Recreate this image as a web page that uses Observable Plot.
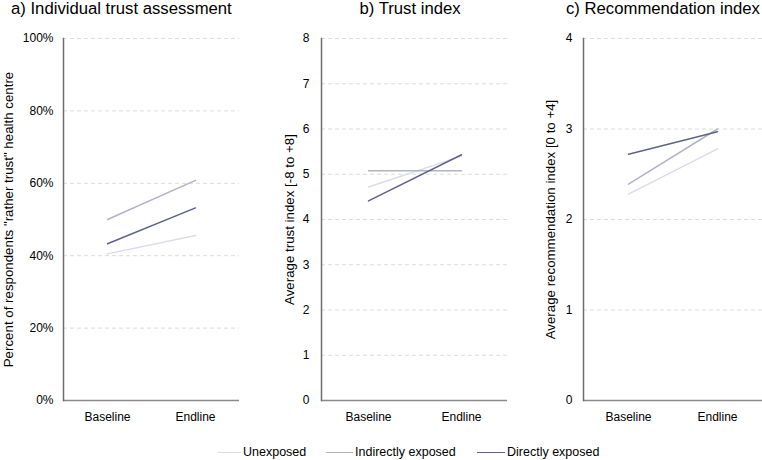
<!DOCTYPE html>
<html>
<head>
<meta charset="utf-8">
<script src="https://cdn.jsdelivr.net/npm/d3@7"></script>
<script src="https://cdn.jsdelivr.net/npm/@observablehq/plot@0.6"></script>
<style>
  html, body { margin: 0; padding: 0; background: #fff; }
  #root { position: relative; width: 762px; height: 460px; overflow: hidden; font-family: "Liberation Sans", Arial, sans-serif; color: #000; }
  .panel { position: absolute; top: 0; }
  .title { position: absolute; top: 1px; font-size: 16.7px; line-height: 16px; white-space: nowrap; }
  .legend { position: absolute; top: 445px; font-size: 12.5px; line-height: 14px; white-space: nowrap; }
  .sw { position: absolute; height: 0; border-top: 1.5px solid; top: 452px; }
</style>
</head>
<body>
<div id="root"></div>
<script>
const stages = ["Baseline", "Endline"];
const groups = ["Unexposed", "Indirectly exposed", "Directly exposed"];
const groupColors = ["#dcdce9", "#b3b3c7", "#5c6585"];

// values per group: [Baseline, Endline]
const individualTrust = [[0.405, 0.456], [0.500, 0.608], [0.433, 0.532]];
const trustIndex = [[4.72, 5.40], [5.08, 5.08], [4.41, 5.43]];
const recommendationIndex = [[2.28, 2.78], [2.39, 3.00], [2.72, 2.97]];

const ticksA = [0, 0.2, 0.4, 0.6, 0.8, 1.0];
const ticksB = [0, 1, 2, 3, 4, 5, 6, 7, 8];
const ticksC = [0, 1, 2, 3, 4];

const titles = ["a) Individual trust assessment", "b) Trust index", "c) Recommendation index"];
const yLabels = ["Percent of respondents \"rather trust\" health centre", "Average trust index [-8 to +8]", "Average recommendation index [0 to +4]"];

const root = document.getElementById("root");

function panel({data, ticks, fmt, label, labelDx, tickPad, left, width, ml, mr}) {
  const rows = [];
  groups.forEach((g, i) => stages.forEach((s, j) => rows.push({group: g, stage: s, value: data[i][j]})));
  const y0 = ticks[0], y1 = ticks[ticks.length - 1];
  const svg = Plot.plot({
    width, height: 460, marginLeft: ml, marginRight: mr, marginTop: 38, marginBottom: 60,
    style: {fontFamily: "'Liberation Sans', Arial, sans-serif", fontSize: "12px", color: "#000", background: "transparent"},
    x: {type: "point", domain: stages, padding: 0.5},
    y: {domain: [y0, y1]},
    color: {domain: groups, range: groupColors},
    marks: [
      Plot.ruleY(ticks.filter(t => t > y0), {stroke: "#dcdcdc", strokeDasharray: "4,3", strokeWidth: 1}),
      Plot.axisY({ticks, tickSize: 0, tickPadding: tickPad, tickFormat: fmt, label: null, fontSize: 12}),
      Plot.axisX({tickSize: 0, tickPadding: 12, label: null, fontSize: 12}),
      Plot.line(rows, {x: "stage", y: "value", z: "group", stroke: "group", strokeWidth: 1.5}),
      Plot.ruleY([y0], {stroke: "#8a8a8a", strokeWidth: 1.5}),
      Plot.frame({anchor: "left", stroke: "#6e6e6e", strokeWidth: 1.5}),
      Plot.text([label], {frameAnchor: "left", rotate: -90, dx: labelDx, fontSize: 13.3, textAnchor: "middle", lineAnchor: "middle"})
    ]
  });
  svg.classList.add("panel");
  svg.style.left = left + "px";
  root.appendChild(svg);
}

panel({data: individualTrust, ticks: ticksA, fmt: d3.format(".0%"), label: yLabels[0], labelDx: -55, tickPad: 10, left: 0, width: 245, ml: 63, mr: 6});
panel({data: trustIndex, ticks: ticksB, fmt: d3.format("d"), label: yLabels[1], labelDx: -32, tickPad: 12, left: 245, width: 265, ml: 76, mr: 3});
panel({data: recommendationIndex, ticks: ticksC, fmt: d3.format("d"), label: yLabels[2], labelDx: -33, tickPad: 11, left: 510, width: 252, ml: 73, mr: 0});

// titles
const titlePos = [{left: 11}, {center: 410}, {left: 566}];
titles.forEach((t, i) => {
  const d = document.createElement("div");
  d.className = "title";
  d.textContent = t;
  root.appendChild(d);
  if (titlePos[i].left != null) d.style.left = titlePos[i].left + "px";
  else d.style.left = (titlePos[i].center - d.offsetWidth / 2) + "px";
});

// legend
const legendPos = [{sw: 218, text: 243}, {sw: 326, text: 355}, {sw: 477, text: 507}];
groups.forEach((g, i) => {
  const s = document.createElement("div");
  s.className = "sw";
  s.style.left = legendPos[i].sw + "px";
  s.style.width = (legendPos[i].text - 2 - legendPos[i].sw) + "px";
  s.style.borderColor = groupColors[i];
  root.appendChild(s);
  const t = document.createElement("div");
  t.className = "legend";
  t.style.left = legendPos[i].text + "px";
  t.textContent = g;
  root.appendChild(t);
});
</script>
</body>
</html>
